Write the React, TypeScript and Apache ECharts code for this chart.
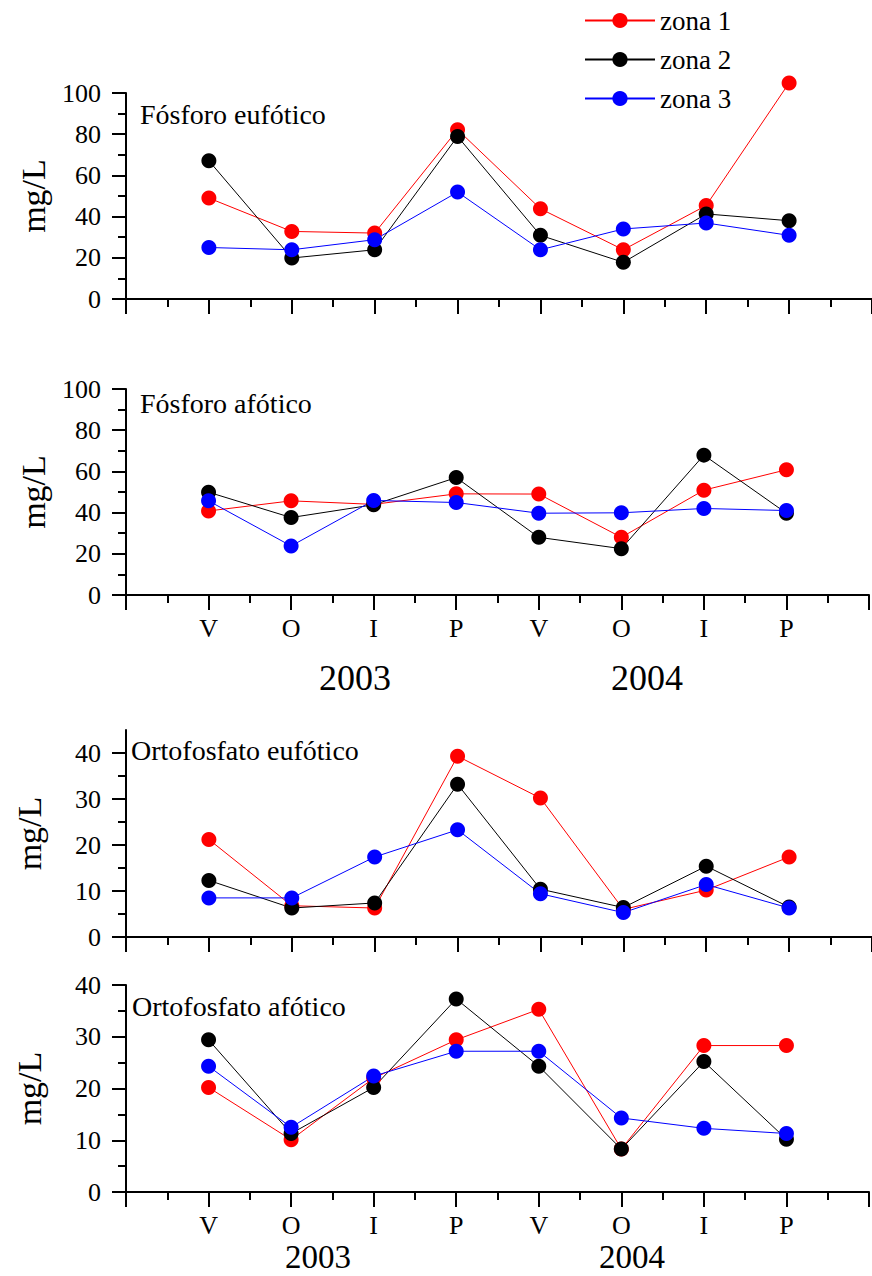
import React, { useEffect, useRef } from "react";
import * as echarts from "echarts";

// Seasons along the x axis (two sampling years)
const SEASONS = ["V", "O", "I", "P", "V", "O", "I", "P"];
const YEARS = ["2003", "2004"];
const ZONES = ["zona 1", "zona 2", "zona 3"];

// Fósforo eufótico (mg/L)
const FOS_EUF_Z1 = [49, 32.8, 32, 82.2, 43.8, 23.9, 45.4, 104.9];
const FOS_EUF_Z2 = [67.1, 19.9, 23.9, 78.9, 30.9, 17.8, 41.3, 38];
const FOS_EUF_Z3 = [25, 23.9, 28.8, 51.9, 23.9, 34, 36.9, 30.9];

// Fósforo afótico (mg/L)
const FOS_AF_Z1 = [40.8, 45.7, 44, 49.1, 49, 28, 50.9, 60.8];
const FOS_AF_Z2 = [49.9, 37.6, 43.8, 57, 28, 22.5, 67.9, 39.7];
const FOS_AF_Z3 = [45.7, 23.8, 45.9, 44.9, 39.7, 39.9, 42, 41];

// Ortofosfato eufótico (mg/L)
const ORTO_EUF_Z1 = [21.2, 6.8, 6.3, 39.3, 30.2, 6, 10.2, 17.4];
const ORTO_EUF_Z2 = [12.3, 6.3, 7.4, 33.2, 10.4, 6.4, 15.4, 6.5];
const ORTO_EUF_Z3 = [8.5, 8.5, 17.4, 23.3, 9.4, 5.3, 11.4, 6.3];

// Ortofosfato afótico (mg/L)
const ORTO_AF_Z1 = [20.2, 10.1, 22, 29.4, 35.3, 8.3, 28.3, 28.3];
const ORTO_AF_Z2 = [29.4, 11.3, 20.2, 37.3, 24.3, 8.3, 25.2, 10.2];
const ORTO_AF_Z3 = [24.3, 12.5, 22.4, 27.2, 27.2, 14.3, 12.3, 11.3];

const FONT = "'Liberation Serif', 'DejaVu Serif', serif";
const ZONE_COLORS = ["#ff0000", "#000000", "#0000ff"];

type Panel = {
  title: string;
  zones: number[][];
  max: number;
  interval: number;
  top: number;
  height: number;
  showX: boolean;
  nameGap: number;
};

const PANELS: Panel[] = [
  { title: "Fósforo eufótico", zones: [FOS_EUF_Z1, FOS_EUF_Z2, FOS_EUF_Z3], max: 100, interval: 20, top: 93, height: 206, showX: false, nameGap: 76 },
  { title: "Fósforo afótico", zones: [FOS_AF_Z1, FOS_AF_Z2, FOS_AF_Z3], max: 100, interval: 20, top: 389, height: 206, showX: true, nameGap: 76 },
  { title: "Ortofosfato eufótico", zones: [ORTO_EUF_Z1, ORTO_EUF_Z2, ORTO_EUF_Z3], max: 45, interval: 5, top: 730, height: 207, showX: false, nameGap: 80 },
  { title: "Ortofosfato afótico", zones: [ORTO_AF_Z1, ORTO_AF_Z2, ORTO_AF_Z3], max: 40, interval: 10, top: 985, height: 207, showX: true, nameGap: 80 },
];

const GRID_LEFT = 126;
const GRID_WIDTH = 746;

const black = { color: "#000", width: 2 };

function buildOption() {
  const grids = PANELS.map((p) => ({ left: GRID_LEFT, width: GRID_WIDTH, top: p.top, height: p.height }));

  const xAxes = PANELS.map((p, i) => ({
    gridIndex: i,
    type: "value",
    min: 0,
    max: SEASONS.length + 1,
    interval: 1,
    axisLine: { show: true, onZero: false, lineStyle: black },
    axisTick: { show: true, length: 15, lineStyle: black },
    minorTick: { show: true, splitNumber: 2, length: 8, lineStyle: black },
    splitLine: { show: false },
    axisLabel: {
      show: p.showX,
      fontFamily: FONT,
      fontSize: 26,
      lineHeight: 24,
      color: "#000",
      margin: 21,
      formatter: (v: number) => SEASONS[v - 1] ?? "",
    },
  }));

  const yAxes: any[] = PANELS.map((p, i) => {
    const base: any = {
      gridIndex: i,
      type: "value",
      position: "left",
      min: 0,
      max: p.max,
      interval: p.interval,
      axisLine: { show: true, onZero: false, lineStyle: black },
      axisTick: { show: true, length: 14, lineStyle: black },
      minorTick: { show: true, splitNumber: 2, length: 8, lineStyle: black },
      splitLine: { show: false },
      axisLabel: { fontFamily: FONT, fontSize: 26, color: "#000", margin: 25 },
      name: "mg/L",
      nameLocation: "middle",
      nameGap: p.nameGap,
      nameTextStyle: { fontFamily: FONT, fontSize: 34, color: "#000" },
    };
    if (p.max === 45) {
      const majors = [0, 10, 20, 30, 40];
      base.axisTick = { ...base.axisTick, customValues: majors };
      base.axisLabel = { ...base.axisLabel, customValues: majors };
      base.minorTick = { show: false };
    }
    return base;
  });

  // minor ticks for the ortofosfato eufótico axis, which runs past its last label
  yAxes.push({
    gridIndex: 2,
    type: "value",
    position: "left",
    min: 0,
    max: 45,
    interval: 5,
    axisLine: { show: false },
    axisTick: { show: true, length: 8, lineStyle: black, customValues: [5, 15, 25, 35] },
    axisLabel: { show: false },
    splitLine: { show: false },
  });

  const series: any[] = [];
  PANELS.forEach((p, i) => {
    p.zones.forEach((vals, z) => {
      series.push({
        type: "line",
        name: ZONES[z],
        xAxisIndex: i,
        yAxisIndex: i,
        data: vals.map((v, k) => [k + 1, v]),
        symbol: "circle",
        symbolSize: 15,
        clip: false,
        color: ZONE_COLORS[z],
        itemStyle: { color: ZONE_COLORS[z] },
        lineStyle: { color: ZONE_COLORS[z], width: 1 },
      });
    });
  });

  const titleTexts = [
    { x: 140, y: 114 },
    { x: 140, y: 403 },
    { x: 131, y: 750 },
    { x: 132, y: 1006 },
  ].map((pos, i) => ({
    type: "text",
    x: pos.x,
    y: pos.y,
    style: { text: PANELS[i].title, fontFamily: FONT, fontSize: 28, fill: "#000", verticalAlign: "middle", align: "left" },
  }));

  const yearTexts = [
    { x: 355, y: 678, t: YEARS[0], s: 36 },
    { x: 647, y: 678, t: YEARS[1], s: 36 },
    { x: 318, y: 1257, t: YEARS[0], s: 33 },
    { x: 632, y: 1257, t: YEARS[1], s: 33 },
  ].map((pos) => ({
    type: "text",
    x: pos.x,
    y: pos.y,
    style: {
      text: pos.t,
      fontFamily: FONT,
      fontSize: pos.s,
      lineHeight: 28,
      fill: "#000",
      align: "center",
      verticalAlign: "middle",
    },
  }));

  return {
    animation: false,
    backgroundColor: "#fff",
    grid: grids,
    xAxis: xAxes,
    yAxis: yAxes,
    legend: {
      data: ZONES,
      orient: "vertical",
      left: 579,
      top: 2,
      itemWidth: 70,
      itemHeight: 19,
      itemGap: 12,
      textStyle: { fontFamily: FONT, fontSize: 27, color: "#000" },
    },
    graphic: [...titleTexts, ...yearTexts],
    series,
  };
}

export default function App() {
  const ref = useRef<HTMLDivElement>(null);
  useEffect(() => {
    document.body.style.margin = "0";
    if (!ref.current) return;
    const chart = echarts.init(ref.current, undefined, { renderer: "svg" });
    chart.setOption(buildOption() as any);
    return () => chart.dispose();
  }, []);
  return <div ref={ref} style={{ width: 872, height: 1276 }} />;
}
